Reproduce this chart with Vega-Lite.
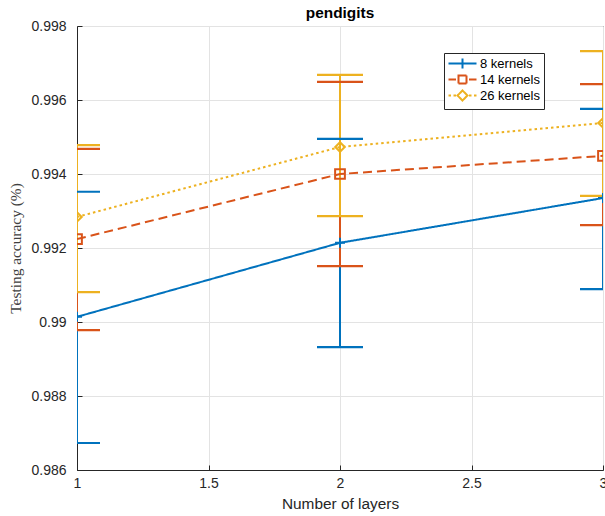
{
  "$schema": "https://vega.github.io/schema/vega-lite/v6.json",
  "width": 526,
  "height": 444,
  "autosize": {"type": "none"},
  "padding": {"left": 77, "top": 26, "right": 2, "bottom": 46},
  "background": "white",
  "title": {"text": "pendigits", "font": "Liberation Sans", "fontSize": 15.4, "fontWeight": "bold", "color": "#000000", "anchor": "middle", "frame": "group", "baseline": "alphabetic", "offset": -14},
  "config": {
    "view": {"stroke": "#262626", "strokeWidth": 1},
    "axis": {"labelFont": "Liberation Sans", "labelFontSize": 14, "labelColor": "#262626", "titleFont": "Liberation Sans", "titleFontSize": 15.4, "titleFontWeight": "normal", "titleColor": "#262626", "domainColor": "#262626", "tickColor": "#262626", "gridColor": "#e3e3e3", "gridOpacity": 1, "tickSize": -5, "domainWidth": 1}
  },
  "resolve": {"legend": {"color": "independent", "shape": "independent", "strokeDash": "independent", "size": "independent"}},
  "data": {"values": [
    {"series": "8 kernels", "layers": 1, "mean": 0.99014, "lo": 0.98673, "hi": 0.99352},
    {"series": "8 kernels", "layers": 2, "mean": 0.99214, "lo": 0.98932, "hi": 0.99495},
    {"series": "8 kernels", "layers": 3, "mean": 0.99335, "lo": 0.99089, "hi": 0.99576},
    {"series": "14 kernels", "layers": 1, "mean": 0.99224, "lo": 0.98978, "hi": 0.99468},
    {"series": "14 kernels", "layers": 2, "mean": 0.994, "lo": 0.99151, "hi": 0.99649},
    {"series": "14 kernels", "layers": 3, "mean": 0.99449, "lo": 0.99262, "hi": 0.99643},
    {"series": "26 kernels", "layers": 1, "mean": 0.99284, "lo": 0.99081, "hi": 0.99478},
    {"series": "26 kernels", "layers": 2, "mean": 0.99473, "lo": 0.99286, "hi": 0.99668},
    {"series": "26 kernels", "layers": 3, "mean": 0.99538, "lo": 0.99341, "hi": 0.99732}
  ]},
  "layer": [
    {
      "mark": {"type": "rule", "clip": true, "strokeWidth": 2},
      "encoding": {
        "x": {"field": "layers", "type": "quantitative", "scale": {"domain": [1, 3], "nice": false, "zero": false}, "axis": {"title": "Number of layers", "values": [1, 1.5, 2, 2.5, 3], "format": "~g", "grid": true, "labelPadding": 11, "titlePadding": 6, "labelFlush": false}},
        "y": {"field": "lo", "type": "quantitative", "scale": {"domain": [0.986, 0.998], "nice": false, "zero": false}, "axis": {"title": "Testing accuracy (%)", "titleFont": "Liberation Serif", "titleColor": "#404040", "values": [0.986, 0.988, 0.99, 0.992, 0.994, 0.996, 0.998], "format": ".3~f", "grid": true, "labelPadding": 16, "titlePadding": 7, "labelFlush": false}},
        "y2": {"field": "hi"},
        "color": {"field": "series", "type": "nominal", "scale": {"domain": ["8 kernels", "14 kernels", "26 kernels"], "range": ["#0072BD", "#D95319", "#EDB120"]}, "legend": {
          "title": null, "orient": "none", "legendX": 367, "legendY": 27,
          "labelFont": "Liberation Sans", "labelFontSize": 13, "labelColor": "#000000",
          "strokeColor": "#262626", "fillColor": "white", "padding": 4, "cornerRadius": 0,
          "symbolSize": 100, "symbolStrokeWidth": 2, "symbolOffset": 8, "labelOffset": 11, "rowPadding": -2,
          "symbolType": "M-2.8,0H2.8",
          "encode": {"symbols": {"update": {
            "shape": {"signal": "datum.value === '8 kernels' ? 'M-2.8,0H2.8M0,-1V1' : datum.value === '14 kernels' ? 'M-2.8,0H-1.3M-0.8,-0.8H0.8V0.8H-0.8ZM1.3,0H2.8' : 'M-2.8,0H-2.3M-1.8,0H-1.3M-1,0L0,-1L1,0L0,1ZM1.3,0H1.8M2.3,0H2.8'"},
            "strokeDash": {"value": [1, 0]},
            "fill": {"value": "transparent"},
            "fillOpacity": {"value": 0},
            "strokeWidth": {"value": 2},
            "opacity": {"value": 1}
          }}}
        }}
      }
    },
    {
      "mark": {"type": "tick", "orient": "horizontal", "clip": true, "size": 46, "thickness": 2.2, "opacity": 1},
      "encoding": {
        "x": {"field": "layers", "type": "quantitative"},
        "y": {"field": "lo", "type": "quantitative"},
        "color": {"field": "series", "type": "nominal", "legend": null}
      }
    },
    {
      "mark": {"type": "tick", "orient": "horizontal", "clip": true, "size": 46, "thickness": 2.2, "opacity": 1},
      "encoding": {
        "x": {"field": "layers", "type": "quantitative"},
        "y": {"field": "hi", "type": "quantitative"},
        "color": {"field": "series", "type": "nominal", "legend": null}
      }
    },
    {
      "mark": {"type": "line", "clip": true, "strokeWidth": 2},
      "encoding": {
        "x": {"field": "layers", "type": "quantitative"},
        "y": {"field": "mean", "type": "quantitative"},
        "detail": {"field": "series"},
        "strokeDash": {"field": "series", "type": "nominal", "scale": {"domain": ["8 kernels", "14 kernels", "26 kernels"], "range": [[1, 0], [9, 5], [2.5, 3]]}, "legend": null},
        "color": {"field": "series", "type": "nominal", "legend": null}
      }
    },
    {
      "mark": {"type": "point", "clip": true, "filled": false, "strokeWidth": 2, "opacity": 1},
      "encoding": {
        "x": {"field": "layers", "type": "quantitative"},
        "y": {"field": "mean", "type": "quantitative"},
        "color": {"field": "series", "type": "nominal", "legend": null},
        "shape": {"field": "series", "type": "nominal", "scale": {"domain": ["8 kernels", "14 kernels", "26 kernels"], "range": ["M-1,0H1M0,-1V1", "square", "diamond"]}, "legend": null},
        "size": {"field": "series", "type": "nominal", "scale": {"domain": ["8 kernels", "14 kernels", "26 kernels"], "range": [100, 90, 100]}, "legend": null}
      }
    }
  ]
}
